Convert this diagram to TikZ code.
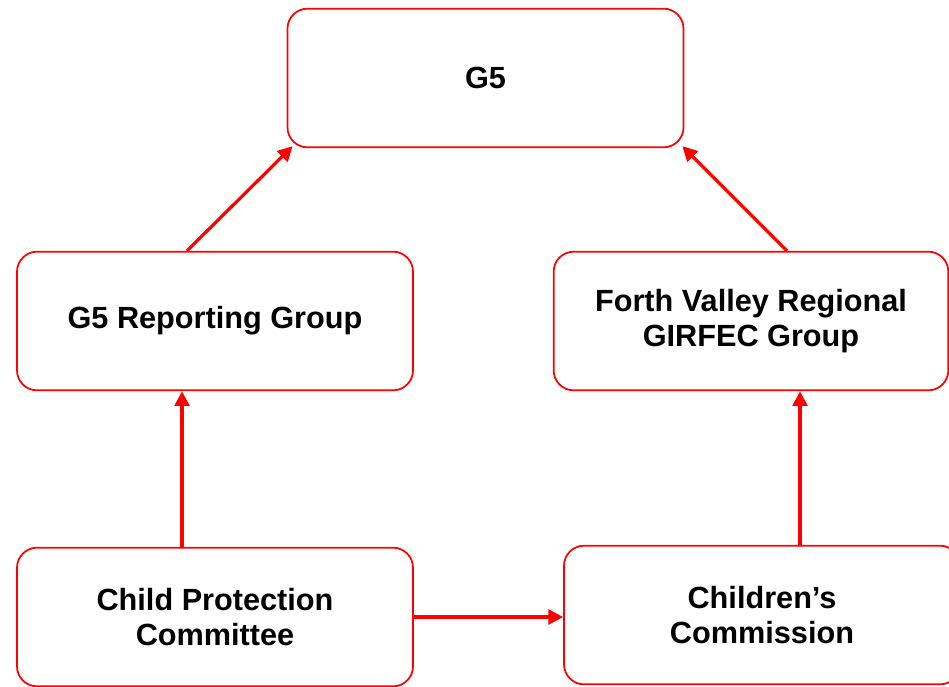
\documentclass[tikz,border=0pt]{standalone}
\usepackage{fontspec}
\setmainfont{Liberation Sans}
\usetikzlibrary{arrows.meta, calc}

\begin{document}
\begin{tikzpicture}[x=0.75pt, y=-0.75pt,
  box/.style={draw=red, line width=1.3pt, rounded corners=15pt, fill=white,
    minimum width=297pt, minimum height=104pt, align=center,
    font=\fontsize{23}{26}\selectfont\bfseries},
  arr/.style={draw=red, line width=2.4pt, -{Triangle[length=11pt, width=11pt]}}]
  \useasboundingbox (0,0) rectangle (949,686);
  \clip (0,0) rectangle (949,686);

  %Boxes:
  \node[box] (g5) at (485.5,78) {G5};
  \node[box] (rep) at (215,321) {G5 Reporting Group};
  \node[box, minimum width=296pt] (fv) at (751,321) {Forth Valley Regional\\GIRFEC Group};
  \node[box] (cpc) at (215,617) {Child Protection\\Committee};
  \node[box] (cc) at (762,615) {Children’s\\Commission};

  %Arrows (going up the chain)
  \draw[arr] ($(rep.north)+(-28,0)$) -- ($(g5.south west)+(6,-2)$);
  \draw[arr] ($(fv.north)+(36,0)$) -- ($(g5.south east)+(-2,-2)$);
  \draw[arr] ($(cpc.north)+(-33,0)$) -- ($(rep.south)+(-33,0)$);
  \draw[arr] ($(cc.north)+(38,0)$) -- ($(fv.south)+(49,0)$);
  \draw[arr] (cpc.east) -- (cpc.east -| cc.west);
\end{tikzpicture}
\end{document}
